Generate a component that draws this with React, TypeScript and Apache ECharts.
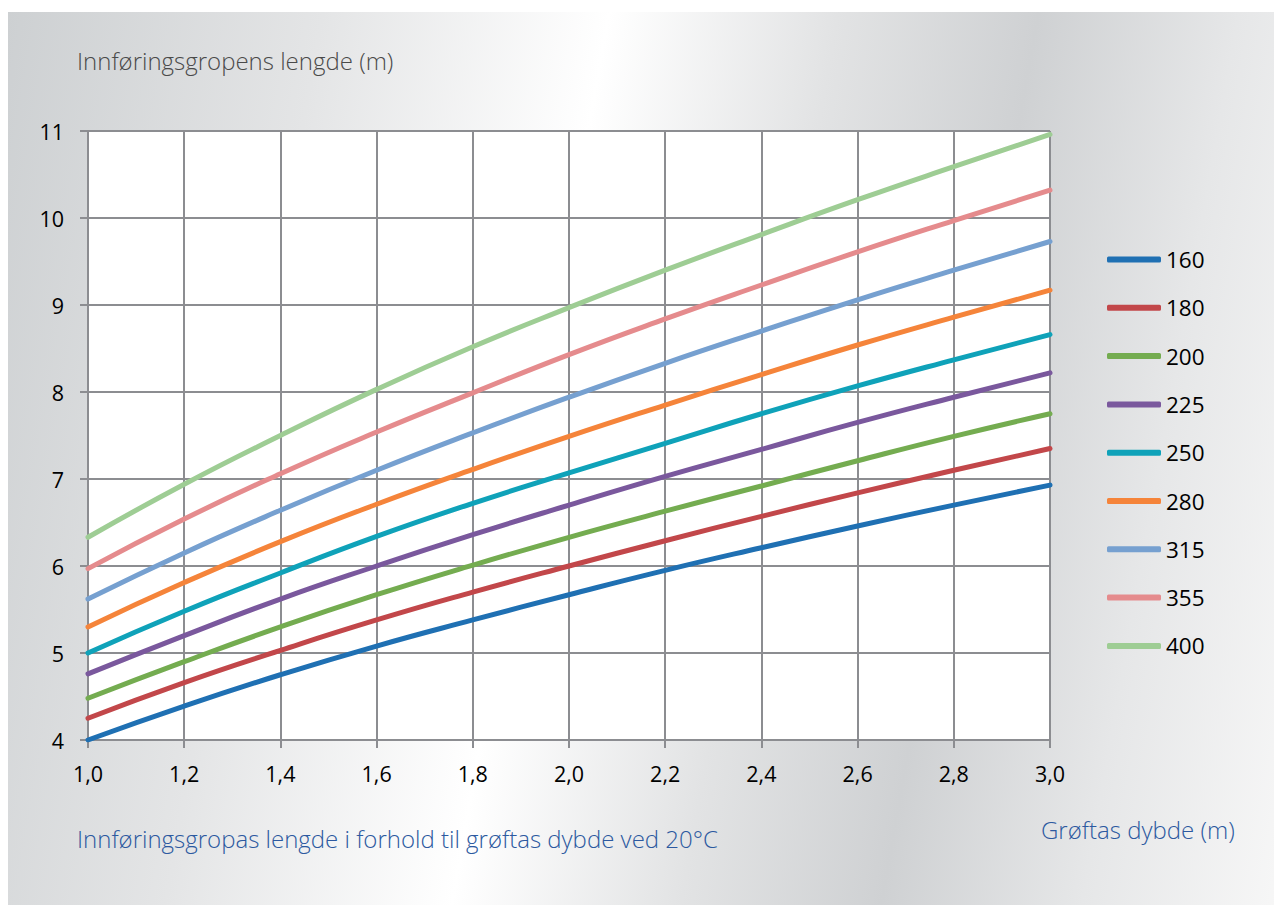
import React, { useEffect, useRef } from "react";
import * as echarts from "echarts";

const xValues = [1.0, 1.2, 1.4, 1.6, 1.8, 2.0, 2.2, 2.4, 2.6, 2.8, 3.0];
const seriesNames = ["160", "180", "200", "225", "250", "280", "315", "355", "400"];
const s160 = [4.0, 4.39, 4.75, 5.08, 5.38, 5.67, 5.95, 6.21, 6.46, 6.7, 6.93];
const s180 = [4.25, 4.66, 5.03, 5.38, 5.7, 6.0, 6.29, 6.57, 6.84, 7.1, 7.35];
const s200 = [4.48, 4.9, 5.3, 5.67, 6.01, 6.33, 6.63, 6.92, 7.21, 7.49, 7.75];
const s225 = [4.76, 5.2, 5.62, 6.0, 6.36, 6.7, 7.03, 7.34, 7.65, 7.94, 8.22];
const s250 = [5.0, 5.48, 5.92, 6.34, 6.72, 7.07, 7.41, 7.75, 8.07, 8.37, 8.66];
const s280 = [5.3, 5.81, 6.28, 6.71, 7.11, 7.49, 7.85, 8.2, 8.54, 8.86, 9.17];
const s315 = [5.62, 6.15, 6.64, 7.1, 7.53, 7.94, 8.33, 8.7, 9.06, 9.4, 9.73];
const s355 = [5.97, 6.54, 7.06, 7.54, 7.99, 8.43, 8.84, 9.23, 9.61, 9.97, 10.32];
const s400 = [6.33, 6.94, 7.5, 8.03, 8.52, 8.97, 9.4, 9.81, 10.21, 10.59, 10.96];
const allSeries = [s160, s180, s200, s225, s250, s280, s315, s355, s400];
const colors = ["#1f70b3", "#c2474a", "#74ac50", "#7a589d", "#0fa2b9", "#f5843a", "#76a0d0", "#e58b8d", "#9ecd94"];

const yTitle = "Innføringsgropens lengde (m)";
const bottomTitle = "Innføringsgropas lengde i forhold til grøftas dybde ved 20°C";
const xTitle = "Grøftas dybde (m)";

const FONT = "'Open Sans', 'Noto Sans', sans-serif";
const GRID = "#8c8d91";
const BLUE = "#2c59a0";

export default function App() {
  const ref = useRef<HTMLDivElement>(null);
  useEffect(() => {
    if (!ref.current) return;
    const chart = echarts.init(ref.current, null, { renderer: "svg" });
    chart.setOption({
      animation: false,
      grid: {
        left: 80,
        right: 232,
        top: 119,
        bottom: 165,
        show: true,
        backgroundColor: "#ffffff",
        borderWidth: 0,
      },
      legend: {
        orient: "vertical",
        left: 1099,
        top: 236,
        padding: 0,
        itemWidth: 54,
        itemHeight: 6,
        itemGap: 25.3,
        icon: "roundRect",
        textStyle: { fontFamily: FONT, fontSize: 22.5, color: "#000", lineHeight: 20 },
        data: seriesNames,
      },
      xAxis: {
        type: "value",
        min: 1,
        max: 3,
        interval: 0.2,
        axisLine: { show: true, lineStyle: { color: GRID, width: 2 } },
        axisTick: { show: true, length: 8, lineStyle: { color: GRID, width: 2 } },
        splitLine: { show: true, lineStyle: { color: GRID, width: 2 } },
        axisLabel: {
          margin: 22,
          fontFamily: FONT,
          fontSize: 21.5,
          color: "#000",
          formatter: (v: number) => v.toFixed(1).replace(".", ","),
        },
      },
      yAxis: {
        type: "value",
        min: 4,
        max: 11,
        interval: 1,
        axisLine: { show: true, lineStyle: { color: GRID, width: 2 } },
        axisTick: { show: true, length: 8, lineStyle: { color: GRID, width: 2 } },
        splitLine: { show: true, lineStyle: { color: GRID, width: 2 } },
        axisLabel: { margin: 24, fontFamily: FONT, fontSize: 21.5, color: "#000" },
      },
      graphic: [
        {
          type: "text",
          left: 69,
          top: 36,
          style: { text: yTitle, fontFamily: FONT, fontSize: 24, fill: "#4a4a4a", fontWeight: 300 },
        },
        {
          type: "text",
          left: 69,
          top: 814,
          style: { text: bottomTitle, fontFamily: FONT, fontSize: 24, fill: BLUE, fontWeight: 300 },
        },
        {
          type: "text",
          left: 1033,
          top: 805,
          style: { text: xTitle, fontFamily: FONT, fontSize: 24, fill: BLUE, fontWeight: 300 },
        },
      ],
      series: allSeries.map((vals, i) => ({
        name: seriesNames[i],
        type: "line",
        smooth: 0.5,
        symbol: "none",
        data: vals.map((v, j) => [xValues[j], v]),
        itemStyle: { color: colors[i] },
        lineStyle: { color: colors[i], width: 5, cap: "round" },
      })),
    });
    return () => chart.dispose();
  }, []);
  return (
    <div style={{ paddingTop: 4 }}>
      <div
        ref={ref}
        style={{
          width: 1274,
          height: 893,
          background:
            "linear-gradient(100deg, #cdd0d2 0%, #e4e5e6 22%, #ffffff 42%, #e2e3e4 58%, #cfd1d3 72%, #e6e7e8 86%, #f7f7f7 100%)",
        }}
      />
    </div>
  );
}
